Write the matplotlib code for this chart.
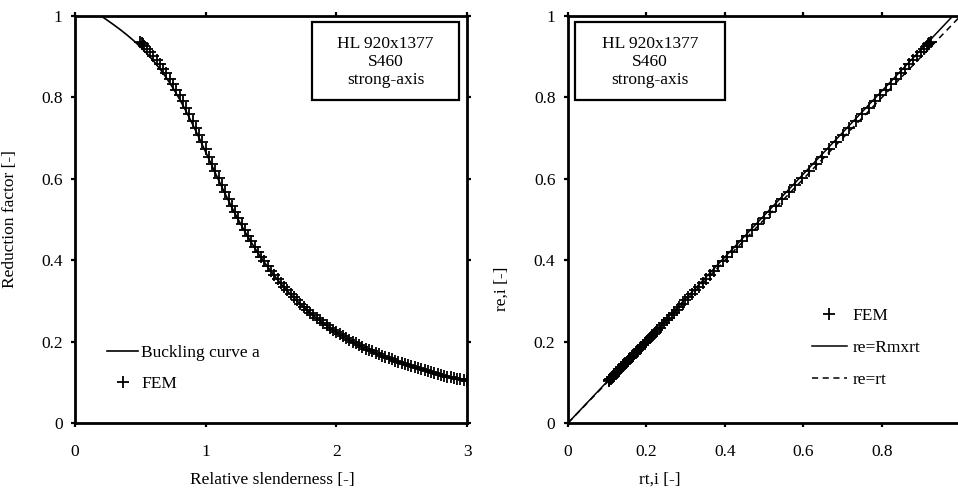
import matplotlib.pyplot as plt
from matplotlib.patches import Rectangle

plt.rcParams['font.family'] = ['Liberation Serif', 'DejaVu Serif']
plt.rcParams['font.size'] = 12.5

# Buckling curve a (EN 1993-1-1, alpha = 0.21)
curve_lam = [0.0, 0.2, 0.25, 0.3, 0.35, 0.4, 0.45, 0.5, 0.55, 0.6, 0.65, 0.7, 0.75,
             0.8, 0.85, 0.9, 0.95, 1.0, 1.05, 1.1, 1.15, 1.2, 1.25, 1.3, 1.35, 1.4,
             1.45, 1.5, 1.55, 1.6, 1.65, 1.7, 1.75, 1.8, 1.85, 1.9, 1.95, 2.0, 2.05,
             2.1, 2.15, 2.2, 2.25, 2.3, 2.35, 2.4, 2.45, 2.5, 2.55, 2.6, 2.65, 2.7,
             2.75, 2.8, 2.85, 2.9, 2.95, 3.0]
curve_chi = [1.0, 1.0, 0.9889, 0.9775, 0.9655, 0.9528, 0.9391, 0.9243, 0.9080, 0.8900,
             0.8700, 0.8478, 0.8230, 0.7957, 0.7659, 0.7339, 0.7003, 0.6656, 0.6306,
             0.5960, 0.5623, 0.5300, 0.4993, 0.4703, 0.4432, 0.4179, 0.3943, 0.3724,
             0.3521, 0.3332, 0.3157, 0.2994, 0.2843, 0.2702, 0.2571, 0.2449, 0.2335,
             0.2229, 0.2129, 0.2036, 0.1949, 0.1867, 0.1790, 0.1717, 0.1649, 0.1585,
             0.1524, 0.1467, 0.1413, 0.1362, 0.1313, 0.1267, 0.1224, 0.1182, 0.1143,
             0.1105, 0.1070, 0.1036]

# FEM results: slenderness, theoretical (rt) and numerical (re) reduction factors
fem_lam = [0.50, 0.51, 0.52, 0.53, 0.55, 0.575, 0.60, 0.625, 0.65, 0.675, 0.70, 0.725,
           0.75, 0.775, 0.80, 0.825, 0.85, 0.875, 0.90, 0.925, 0.95, 0.975, 1.00, 1.025,
           1.05, 1.075, 1.10, 1.125, 1.15, 1.175, 1.20, 1.225, 1.25, 1.275, 1.30, 1.325,
           1.35, 1.375, 1.40, 1.425, 1.45, 1.475, 1.50, 1.525, 1.55, 1.575, 1.60, 1.625,
           1.65, 1.675, 1.70, 1.725, 1.75, 1.775, 1.80, 1.825, 1.85, 1.875, 1.90, 1.925,
           1.95, 1.975, 2.00, 2.025, 2.05, 2.075, 2.10, 2.125, 2.15, 2.175, 2.20, 2.225,
           2.25, 2.275, 2.30, 2.325, 2.35, 2.375, 2.40, 2.425, 2.45, 2.475, 2.50, 2.525,
           2.55, 2.575, 2.60, 2.625, 2.65, 2.675, 2.70, 2.725, 2.75, 2.775, 2.80, 2.825,
           2.85, 2.875, 2.90, 2.925, 2.95, 2.975, 3.00]
rt = [0.924, 0.921, 0.918, 0.915, 0.908, 0.899, 0.890, 0.880, 0.870, 0.859, 0.848, 0.836,
      0.823, 0.810, 0.796, 0.781, 0.766, 0.750, 0.734, 0.717, 0.700, 0.683, 0.666, 0.648,
      0.631, 0.613, 0.596, 0.579, 0.562, 0.546, 0.530, 0.515, 0.499, 0.485, 0.470, 0.457,
      0.443, 0.430, 0.418, 0.406, 0.394, 0.383, 0.372, 0.362, 0.352, 0.343, 0.333, 0.324,
      0.316, 0.307, 0.299, 0.292, 0.284, 0.277, 0.270, 0.264, 0.257, 0.251, 0.245, 0.239,
      0.234, 0.228, 0.223, 0.218, 0.213, 0.208, 0.204, 0.199, 0.195, 0.191, 0.187, 0.183,
      0.179, 0.175, 0.172, 0.168, 0.165, 0.162, 0.159, 0.155, 0.152, 0.150, 0.147, 0.144,
      0.141, 0.139, 0.136, 0.134, 0.131, 0.129, 0.127, 0.125, 0.122, 0.120, 0.118, 0.116,
      0.114, 0.112, 0.111, 0.109, 0.107, 0.105, 0.104]
re = [0.937, 0.934, 0.931, 0.927, 0.920, 0.911, 0.902, 0.892, 0.881, 0.870, 0.859, 0.846,
      0.833, 0.819, 0.805, 0.790, 0.775, 0.758, 0.742, 0.725, 0.708, 0.690, 0.672, 0.654,
      0.637, 0.619, 0.601, 0.584, 0.567, 0.551, 0.534, 0.518, 0.503, 0.488, 0.474, 0.460,
      0.446, 0.433, 0.421, 0.408, 0.397, 0.385, 0.374, 0.364, 0.354, 0.344, 0.335, 0.326,
      0.317, 0.309, 0.301, 0.293, 0.286, 0.278, 0.271, 0.265, 0.258, 0.252, 0.246, 0.240,
      0.234, 0.229, 0.224, 0.219, 0.214, 0.209, 0.204, 0.200, 0.196, 0.191, 0.187, 0.183,
      0.180, 0.176, 0.172, 0.169, 0.165, 0.162, 0.159, 0.156, 0.153, 0.150, 0.147, 0.144,
      0.142, 0.139, 0.137, 0.134, 0.132, 0.129, 0.127, 0.125, 0.123, 0.120, 0.118, 0.116,
      0.114, 0.112, 0.111, 0.109, 0.107, 0.105, 0.104]

rm = 1.02
diag = [0.0, 1.0]

box_text = 'HL 920x1377\nS460\nstrong-axis'

fig = plt.figure(figsize=(9.58, 4.93), dpi=100)
ax1 = fig.add_axes([0.0783, 0.142, 0.4092, 0.8256])
ax2 = fig.add_axes([0.5929, 0.142, 0.4097, 0.8256])


def style_axes(ax):
    for s in ax.spines.values():
        s.set_linewidth(2.0)
    ax.tick_params(direction='out', length=3, width=1.6, labelsize=12.5)
    ax.tick_params(axis='x', pad=12)
    ax.tick_params(axis='y', pad=6)


# left: reduction factor vs slenderness
ax1.plot(curve_lam, curve_chi, color='black', lw=1.2, label='Buckling curve a')
ax1.plot(fem_lam, re, ls='none', marker='+', ms=8, mew=1.3, color='black', label='FEM')
ax1.set_xlim(0, 3)
ax1.set_ylim(0, 1)
ax1.set_xticks([0, 1, 2, 3])
ax1.set_yticks([0, 0.2, 0.4, 0.6, 0.8, 1])
ax1.set_yticklabels(['0', '0.2', '0.4', '0.6', '0.8', '1'])
ax1.tick_params(top=True, right=True)
style_axes(ax1)
ax1.set_xlabel('Relative slenderness [-]')
ax1.set_ylabel('Reduction factor [-]')
ax1.xaxis.set_label_coords(0.504, -0.12)
ax1.yaxis.set_label_coords(-0.145, 0.5)
ax1.legend(loc='center left', bbox_to_anchor=(0.082, 0.134), frameon=False,
           borderpad=0, borderaxespad=0, handlelength=1.8, handletextpad=0.15,
           labelspacing=0.9, fontsize=12.5)
ax1.add_patch(Rectangle((0.605, 0.794), 0.375, 0.191, transform=ax1.transAxes,
                        fill=False, lw=1.6, ec='black'))
ax1.text(0.792, 0.887, box_text, transform=ax1.transAxes, ha='center', va='center',
         linespacing=1.15)

# right: numerical vs theoretical reduction factor
ax2.plot(rt, re, ls='none', marker='+', ms=8, mew=1.3, color='black', label='FEM')
ax2.plot(diag, [rm * d for d in diag], color='black', lw=1.1, label='re=Rmxrt')
ax2.plot(diag, diag, color='black', lw=1.1, ls=(0, (4, 3)), label='re=rt')
ax2.set_xlim(0, 1)
ax2.set_ylim(0, 1)
ax2.set_xticks([0, 0.2, 0.4, 0.6, 0.8])
ax2.set_xticklabels(['0', '0.2', '0.4', '0.6', '0.8'])
ax2.set_yticks([0, 0.2, 0.4, 0.6, 0.8, 1])
ax2.set_yticklabels(['0', '0.2', '0.4', '0.6', '0.8', '1'])
ax2.tick_params(top=True, right=True)
style_axes(ax2)
ax2.set_xlabel('rt,i [-]')
ax2.set_ylabel('re,i [-]')
ax2.xaxis.set_label_coords(0.234, -0.12)
ax2.yaxis.set_label_coords(-0.148, 0.33)
ax2.legend(loc='center left', bbox_to_anchor=(0.622, 0.184), frameon=False,
           borderpad=0, borderaxespad=0, handlelength=2.0, handletextpad=0.35,
           labelspacing=0.9, fontsize=12.5)
ax2.add_patch(Rectangle((0.018, 0.794), 0.382, 0.191, transform=ax2.transAxes,
                        fill=False, lw=1.6, ec='black'))
ax2.text(0.209, 0.887, box_text, transform=ax2.transAxes, ha='center', va='center',
         linespacing=1.15)

fig.savefig('out.png', dpi=100)
